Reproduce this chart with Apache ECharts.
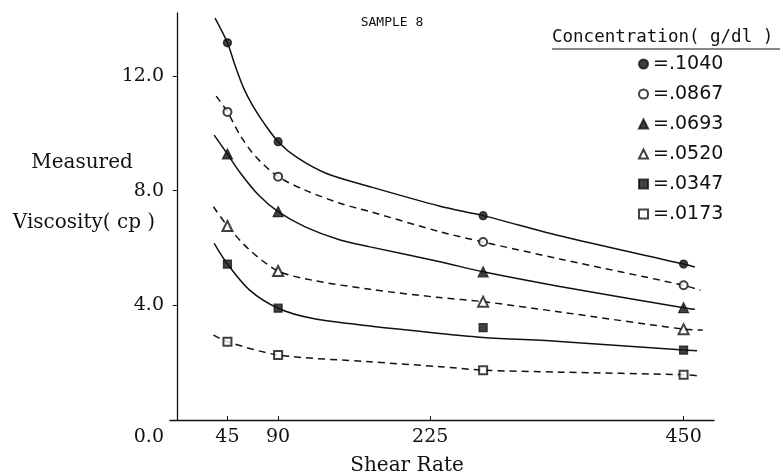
<!DOCTYPE html>
<html>
<head>
<meta charset="utf-8">
<script src="https://cdn.jsdelivr.net/npm/echarts@6/dist/echarts.min.js"></script>
<style>
  html, body { margin: 0; padding: 0; background: #fff; }
  #chart { width: 783px; height: 476px; }
</style>
</head>
<body>
<div id="chart"></div>
<script>
// Polymer concentrations (g/dl), one curve + marker set each
const concentrations = ['.1040', '.0867', '.0693', '.0520', '.0347', '.0173'];

// Shear rates at which the viscosity was measured (as placed on the plot)
const shearColumns = [45, 90, 272, 450];

// Axis tick labels
const xTickValues = [45, 90, 225, 450];
const yTickValues = [0, 4, 8, 12];

// Measured viscosity (cp) at each shear column
const visc1040 = [13.16, 9.71, 7.13, 5.44];
const visc0867 = [10.75, 8.49, 6.21, 4.70];
const visc0693 = [9.28, 7.27, 5.17, 3.92];
const visc0520 = [6.77, 5.20, 4.13, 3.17];
const visc0347 = [5.44, 3.90, 3.22, 2.44];
const visc0173 = [2.73, 2.27, 1.74, 1.58];

// Hand-fitted curves through each data set: [shear rate, viscosity]
const fit1040 = [[34, 14.02], [45, 13.16], [51.5, 12.40], [59.4, 11.58], [67.3, 10.98], [77.9, 10.33], [90, 9.71], [106, 9.18], [133, 8.60], [171.6, 8.14], [233.7, 7.46], [272, 7.13], [340, 6.43], [450, 5.44], [460, 5.34]];
const fit0867 = [[35, 11.30], [45, 10.75], [56.8, 9.90], [70, 9.19], [90, 8.49], [114, 8.02], [145, 7.56], [171.6, 7.27], [233.7, 6.57], [272, 6.21], [340, 5.62], [450, 4.70], [465, 4.53]];
const fit0693 = [[33.2, 9.94], [45, 9.28], [56.8, 8.60], [72.6, 7.85], [90, 7.27], [114, 6.74], [145, 6.28], [171.6, 6.04], [233.7, 5.52], [272, 5.17], [340, 4.66], [450, 3.92], [460, 3.86]];
const fit0520 = [[32.6, 7.44], [45, 6.77], [64.7, 5.93], [90, 5.20], [120, 4.88], [171.6, 4.56], [233.7, 4.27], [272, 4.13], [340, 3.77], [450, 3.17], [467, 3.14]];
const fit0347 = [[33.2, 6.16], [45, 5.44], [64.7, 4.53], [90, 3.90], [120, 3.55], [171.6, 3.28], [233.7, 3.02], [272, 2.88], [340, 2.74], [450, 2.44], [462, 2.42]];
const fit0173 = [[32.6, 2.96], [45, 2.73], [90, 2.27], [171.6, 2.03], [233.7, 1.86], [272, 1.74], [340, 1.67], [450, 1.58], [465, 1.53]];

const viscosities = [visc1040, visc0867, visc0693, visc0520, visc0347, visc0173];
const fits = [fit1040, fit0867, fit0693, fit0520, fit0347, fit0173];

const INK = '#111';
const markerShapes = ['circle', 'emptyCircle', 'triangle', 'emptyTriangle', 'rect', 'emptyRect'];
const markerSizes = [8, 8, 10, 10, 8, 8];
const curveDashed = [false, true, false, true, false, true];

const serif = 'DejaVu Serif';
const mono = 'DejaVu Sans Mono';

const markerSeries = concentrations.map((c, i) => ({
  type: 'scatter',
  name: c,
  data: shearColumns.map((x, j) => [x, viscosities[i][j]]),
  symbol: markerShapes[i],
  symbolSize: markerSizes[i],
  itemStyle: { color: INK, borderColor: INK, borderWidth: 1.2 },
  z: 4,
  silent: true
}));

const curveSeries = concentrations.map((c, i) => ({
  type: 'line',
  name: c,
  data: fits[i],
  showSymbol: false,
  symbol: 'none',
  smooth: 0.3,
  lineStyle: { color: INK, width: 1.5, type: curveDashed[i] ? [7, 5] : 'solid' },
  z: 3,
  silent: true
}));

const chart = echarts.init(document.getElementById('chart'), null, { renderer: 'canvas' });

chart.setOption({
  animation: false,
  backgroundColor: '#fff',
  grid: { left: 170, right: 69, top: 13, bottom: 56 },
  title: [
    { text: 'SAMPLE 8', left: 392, top: 16, textAlign: 'center', padding: 0,
      textStyle: { fontFamily: mono, fontSize: 13, fontWeight: 'normal', color: INK } },
    { text: 'Concentration( g/dl )', left: 552, top: 28, padding: 0,
      textStyle: { fontFamily: mono, fontSize: 17.5, fontWeight: 'normal', color: INK } },
    { text: 'Measured', left: 82, top: 153, textAlign: 'center', padding: 0,
      textStyle: { fontFamily: serif, fontSize: 20, fontWeight: 'normal', color: INK } },
    { text: 'Viscosity( cp )', left: 84, top: 213, textAlign: 'center', padding: 0,
      textStyle: { fontFamily: serif, fontSize: 20, fontWeight: 'normal', color: INK } },
    { text: 'Shear Rate', left: 407, top: 456, textAlign: 'center', padding: 0,
      textStyle: { fontFamily: serif, fontSize: 20, fontWeight: 'normal', color: INK } }
  ],
  graphic: [
    { type: 'line', shape: { x1: 552, y1: 49, x2: 780, y2: 49 },
      style: { stroke: INK, lineWidth: 1.2 }, silent: true }
  ],
  legend: {
    orient: 'vertical',
    left: 638,
    top: 54,
    padding: 0,
    itemWidth: 9,
    itemHeight: 9,
    itemGap: 10,
    selectedMode: false,
    data: concentrations.map((c, i) => ({ name: c, icon: markerShapes[i] })),
    formatter: (name) => '=' + name,
    textStyle: { fontFamily: 'DejaVu Sans', fontSize: 19, color: INK, lineHeight: 20 }
  },
  xAxis: {
    type: 'value',
    min: -6,
    max: 477,
    axisLine: { show: true, lineStyle: { color: INK, width: 1.3 } },
    splitLine: { show: false },
    axisTick: { show: true, inside: true, length: 4, customValues: xTickValues,
      lineStyle: { color: INK, width: 1 } },
    axisLabel: { customValues: xTickValues, margin: 8, fontFamily: serif, fontSize: 19, color: INK }
  },
  yAxis: {
    type: 'value',
    min: 0,
    max: 14.2,
    axisLine: { show: true, lineStyle: { color: INK, width: 1.3 } },
    splitLine: { show: false },
    axisTick: { show: true, length: 4, customValues: [4, 8, 12], lineStyle: { color: INK, width: 1 } },
    axisLabel: {
      customValues: yTickValues,
      margin: 6,
      fontFamily: serif,
      fontSize: 19,
      color: INK,
      formatter: (v) => (v === 0 ? '{zero|0.0}' : v.toFixed(1)),
      rich: { zero: { padding: [34, 0, 0, 0], fontFamily: serif, fontSize: 19, color: INK } }
    }
  },
  series: markerSeries.concat(curveSeries)
});
</script>
</body>
</html>
